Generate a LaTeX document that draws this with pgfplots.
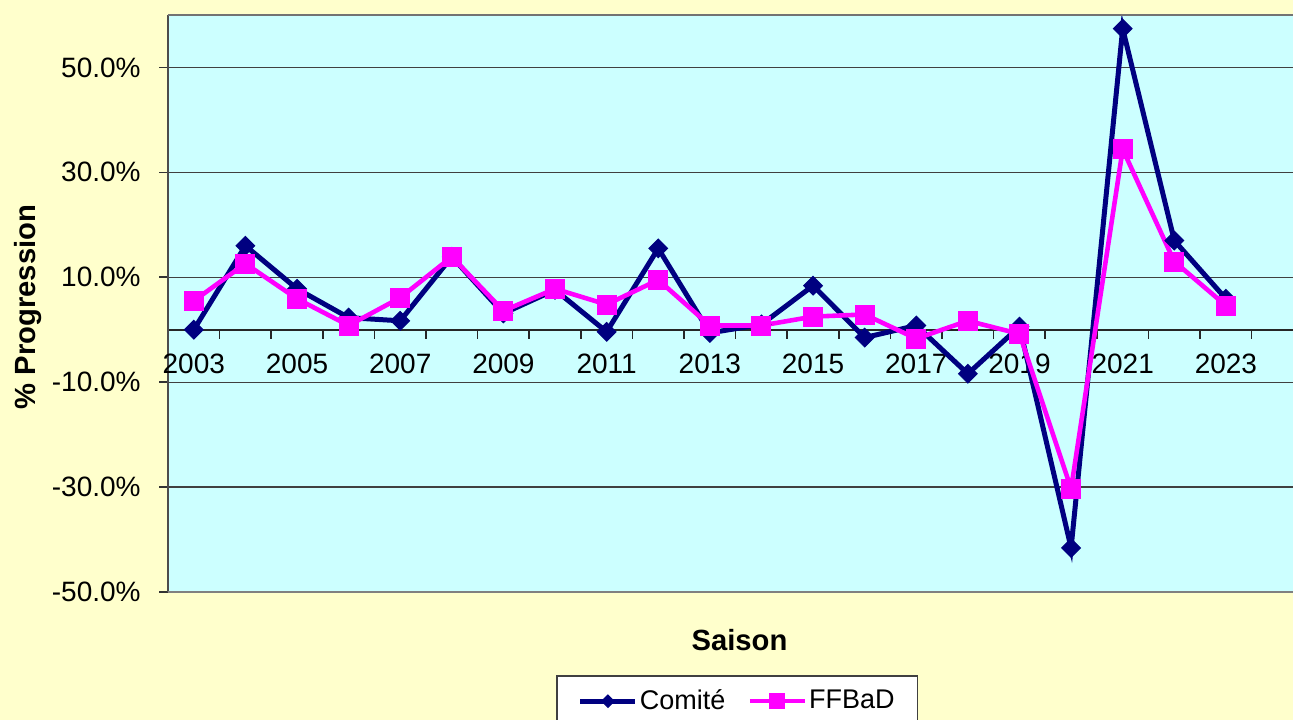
\documentclass[border=0pt]{standalone}
\usepackage{fontspec}
\setmainfont{Liberation Sans}
\usepackage{pgfplots}
\pgfplotsset{compat=1.18}
\usetikzlibrary{backgrounds}
\definecolor{pagebg}{HTML}{FFFFCC}
\definecolor{plotbg}{HTML}{CCFFFF}
\definecolor{comite}{HTML}{000080}
\definecolor{ffbad}{HTML}{FF00FF}
\begin{document}
\begin{tikzpicture}
\begin{axis}[
  scale only axis, width=562.5pt, height=288.5pt,
  xmin=2002.5, xmax=2024.3, ymin=-50, ymax=60,
  axis x line*=middle, axis y line*=left,
  axis background/.style={fill=plotbg},
  x axis line style={black!85, line width=0.8pt},
  y axis line style={black!70, line width=1pt},
  xtick={2003,2005,...,2023},
  xticklabels={2003,2005,2007,2009,2011,2013,2015,2017,2019,2021,2023},
  minor xtick={2003.5,2004.5,...,2023.5},
  major x tick style={draw=none},
  minor x tick style={black!85, line width=0.8pt},
  minor tick length=4.5pt,
  xtick align=outside,
  ytick={-50,-30,-10,10,30,50},
  yticklabels={-50.0\%,-30.0\%,-10.0\%,10.0\%,30.0\%,50.0\%},
  ytick align=outside,
  major tick length=4.5pt,
  y tick style={black!80, line width=0.8pt},
  ymajorgrids,
  grid style={black!75, line width=0.6pt},
  tick label style={font=\fontsize{14}{16}\selectfont, text=black},
  yticklabel style={inner sep=0pt, anchor=east, xshift=-9pt},
  xticklabel style={inner sep=0pt, anchor=north, yshift=-7.5pt},
  xlabel={Saison},
  ylabel={\% Progression},
  label style={font=\fontsize{14.6}{17}\selectfont\bfseries},
  xlabel style={at={(axis description cs:0.508,-0.083)}, anchor=center},
  ylabel style={at={(axis description cs:-0.124,0.494)}, anchor=center, rotate=0},
  legend style={at={(axis description cs:0.506,-0.1438)}, anchor=north,
    draw=black!75, fill=white, line width=0.8pt,
    font=\fontsize{13.5}{16}\selectfont, legend columns=2,
    inner xsep=10.5pt, inner ysep=5pt, nodes={inner xsep=1pt}},
  legend cell align=left,
  /tikz/every even column/.append style={column sep=10pt},
  legend image code/.code={\draw[mark repeat=2,mark phase=2,#1] plot coordinates {(0pt,0pt) (13.75pt,0pt) (27.5pt,0pt)};},
  clip=false,
]
\addplot[comite, line width=2.5pt, mark=square*, mark size=3.3pt, mark options={rotate=45, solid, line width=0.5pt},
  legend image post style={mark size=2.2pt}] coordinates {
(2003,0.0) (2004,16.0) (2005,7.8) (2006,2.3) (2007,1.7) (2008,13.9) (2009,3.1)
(2010,7.6) (2011,-0.4) (2012,15.5) (2013,-0.6) (2014,1.0) (2015,8.4) (2016,-1.5)
(2017,0.8) (2018,-8.4) (2019,0.6) (2020,-41.6) (2021,57.4) (2022,17.0) (2023,5.9)
};
\addlegendentry{Comité}
\addplot[ffbad, line width=2.3pt, mark=square*, mark size=4.75pt, mark options={solid, line width=0.5pt},
  legend image post style={mark size=3.7pt}] coordinates {
(2003,5.5) (2004,12.6) (2005,5.9) (2006,0.8) (2007,6.1) (2008,13.9) (2009,3.6)
(2010,7.8) (2011,4.8) (2012,9.5) (2013,0.8) (2014,0.8) (2015,2.5) (2016,2.9)
(2017,-1.7) (2018,1.7) (2019,-0.8) (2020,-30.3) (2021,34.4) (2022,13.0) (2023,4.6)
};
\addlegendentry{FFBaD}
\draw[black!55, line width=1pt] (rel axis cs:0,1) -- (rel axis cs:1,1);
\draw[black!50, line width=1pt] (rel axis cs:0,0) -- (rel axis cs:1,0);
\coordinate (TL) at (rel axis cs:0,1);
\coordinate (BR) at (rel axis cs:1,0);
\end{axis}
\begin{scope}[on background layer]
\fill[pagebg] ([xshift=-84pt,yshift=7.5pt]TL) rectangle ([yshift=-64pt]BR);
\end{scope}
\pgfresetboundingbox
\path[use as bounding box] ([xshift=-84pt,yshift=7.5pt]TL) rectangle ([yshift=-64pt]BR);
\end{tikzpicture}
\end{document}
